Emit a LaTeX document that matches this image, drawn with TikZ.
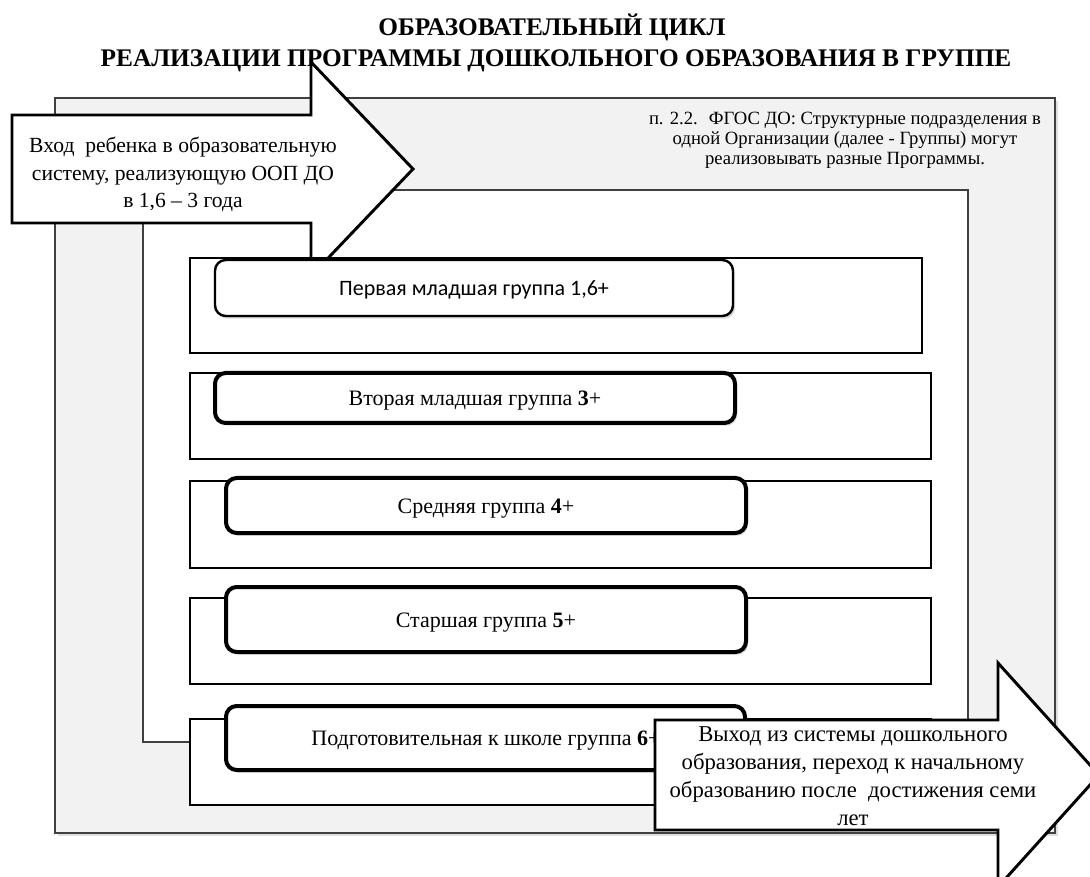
\documentclass[tikz,border=0pt]{standalone}
\usepackage{fontspec}
\setmainfont{Liberation Serif}[BoldFont={Liberation Serif Bold}]
\newfontfamily\calibri{Carlito}
\usetikzlibrary{shadows}
\definecolor{panelgrey}{HTML}{F2F2F2}
\definecolor{edgegrey}{HTML}{404040}
\tikzset{
  grpframe/.style={draw=black,line width=2.2pt,fill=white},
  grpcard/.style={draw=black,line width=3pt,fill=white,rounded corners=8pt,
    drop shadow={shadow xshift=1.5pt,shadow yshift=-2pt,opacity=.3}},
  grplabel/.style={anchor=base,inner sep=0pt,font=\fontsize{16.5}{19}\selectfont},
  bigarrow/.style={draw=black,line width=2.2pt,fill=white,line join=miter},
}
\begin{document}
\begin{tikzpicture}[x=0.75pt,y=-0.75pt]
	\useasboundingbox (0,0) rectangle (1090,877);

	%title
	\node[anchor=base,inner sep=0pt,font=\bfseries\fontsize{19}{22}\selectfont] (title1) at (552,36) {ОБРАЗОВАТЕЛЬНЫЙ ЦИКЛ};
	\node[anchor=base,inner sep=0pt,font=\bfseries\fontsize{19}{22}\selectfont] (title2) at (556,67) {РЕАЛИЗАЦИИ ПРОГРАММЫ ДОШКОЛЬНОГО ОБРАЗОВАНИЯ В ГРУППЕ};

	%panels
	\draw[draw=edgegrey,line width=1.2pt,fill=panelgrey,drop shadow={shadow xshift=2pt,shadow yshift=-2pt,opacity=.25}] (55,98) rectangle (1055,833); %organisation
	\draw[draw=edgegrey,line width=1pt,fill=white] (143,190) rectangle (968,742); %groups area
	\node[anchor=north,align=center,inner sep=0pt,font=\fontsize{14}{15}\selectfont] (note) at (845,112)
	  {п. 2.2.~ ФГОС ДО: Структурные подразделения в\\одной Организации (далее - Группы) могут\\реализовывать разные Программы.};

	%entry arrow
	\draw[bigarrow] (12,115) -- (311,115) -- (311,62) -- (413,169) -- (311,276) -- (311,223) -- (12,223) -- cycle;
	\node[anchor=north,align=center,inner sep=0pt,font=\fontsize{16.2}{20.5}\selectfont] (entry) at (183,137)
	  {Вход~ ребенка в образовательную\\систему, реализующую ООП ДО\\в 1,6 -- 3 года};

	%group frames
	\draw[grpframe,line width=1.9pt] (190,258) rectangle (922,353); %first
	\draw[grpframe] (190,373) rectangle (931,459); %second
	\draw[grpframe] (190,481) rectangle (931,568); %middle
	\draw[grpframe] (190,598) rectangle (931,684); %senior
	\draw[grpframe] (190,719) rectangle (931,805); %school

	%group cards
	\draw[grpcard,line width=1.8pt] (215,260) rectangle (733,316); %first
	\draw[grpcard] (215,373) rectangle (735,423); %second
	\draw[grpcard] (226,478) rectangle (746,533); %middle
	\draw[grpcard] (226,587) rectangle (746,652); %senior
	\draw[grpcard] (226,706) rectangle (745,770); %school

	%group labels
	\node[grplabel,font=\calibri\fontsize{16.5}{19}\selectfont] (first) at (474,296) {Первая младшая группа 1,6+};
	\node[grplabel] (second) at (475,406) {Вторая младшая группа \textbf{3}+};
	\node[grplabel] (middle) at (486,513) {Средняя группа \textbf{4}+};
	\node[grplabel] (senior) at (486,627) {Старшая группа \textbf{5}+};
	\node[grplabel] (school) at (486,745) {Подготовительная к школе группа \textbf{6}+};

	%exit arrow
	\draw[bigarrow] (655,720) -- (998,720) -- (998,663) -- (1099,775) -- (998,887) -- (998,830) -- (655,830) -- cycle;
	\node[anchor=north,align=center,inner sep=0pt,font=\fontsize{17}{21}\selectfont] (exit) at (853,726)
	  {Выход из системы дошкольного\\образования, переход к начальному\\образованию после~ достижения семи\\лет};
\end{tikzpicture}
\end{document}
